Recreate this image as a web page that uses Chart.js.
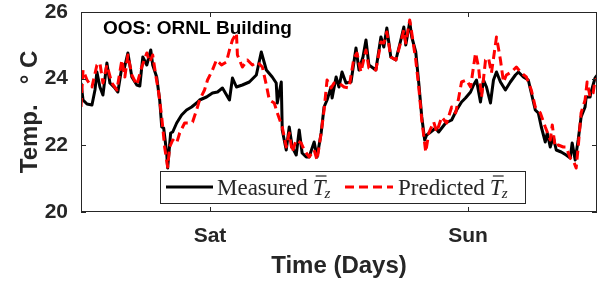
<!DOCTYPE html>
<html>
<head>
<meta charset="utf-8">
<script src="https://cdn.jsdelivr.net/npm/chart.js@4"></script>
<style>
  html, body { margin: 0; padding: 0; background: #fff; }
  #wrap { width: 598px; height: 287px; }
</style>
</head>
<body>
<div id="wrap"><canvas id="chart" width="598" height="287"></canvas></div>
<script>
// hours from Friday noon
const measuredHours = [0.0, 0.19, 0.56, 1.02, 1.30, 1.48, 1.76, 2.04, 2.41, 2.69, 3.15, 3.43, 3.80, 3.99, 4.36, 4.73, 5.19, 5.47, 5.75, 6.12, 6.49, 6.67, 7.04, 7.32, 7.51, 7.69, 7.97, 8.06, 8.34, 8.53, 8.90, 9.36, 9.82, 10.29, 10.75, 11.03, 11.68, 12.23, 12.70, 13.16, 13.81, 14.09, 14.46, 15.01, 15.66, 16.31, 16.77, 17.24, 17.79, 18.16, 18.26, 18.63, 18.72, 19.09, 19.37, 19.65, 20.02, 20.30, 20.57, 20.95, 21.22, 21.69, 21.96, 22.34, 22.61, 22.89, 23.26, 23.36, 23.73, 24.00, 24.28, 24.65, 25.12, 25.39, 25.58, 25.86, 26.23, 26.51, 26.78, 27.43, 27.90, 28.17, 28.45, 28.82, 29.29, 29.75, 30.03, 30.21, 30.58, 30.77, 31.14, 31.42, 31.70, 31.97, 32.16, 32.53, 32.99, 33.27, 33.92, 34.48, 34.94, 35.40, 35.77, 36.24, 36.52, 36.79, 37.16, 37.44, 37.72, 38.09, 38.37, 38.65, 39.02, 39.48, 39.94, 40.41, 40.69, 41.15, 41.61, 41.89, 42.26, 42.54, 42.82, 43.19, 43.37, 43.65, 43.93, 44.21, 44.67, 45.13, 45.51, 45.69, 45.97, 46.25, 46.52, 46.89, 46.99, 47.36, 47.45, 47.82, 48.0];
const measuredTemp = [23.87, 23.36, 23.24, 23.21, 23.66, 24.2, 23.75, 23.51, 24.47, 23.87, 23.72, 23.6, 24.35, 24.26, 24.77, 24.05, 23.81, 23.78, 24.65, 24.41, 24.86, 24.41, 24.05, 23.36, 22.55, 22.52, 21.77, 21.32, 22.37, 22.4, 22.67, 22.91, 23.06, 23.15, 23.27, 23.36, 23.45, 23.57, 23.6, 23.72, 23.36, 24.02, 23.75, 23.81, 23.9, 24.11, 24.8, 24.26, 24.05, 23.87, 23.27, 23.9, 22.46, 21.86, 22.55, 21.95, 21.71, 22.46, 21.77, 21.65, 21.65, 22.1, 21.65, 22.37, 23.15, 23.36, 23.75, 23.42, 24.05, 23.75, 24.2, 23.87, 23.9, 24.5, 24.92, 24.26, 24.65, 25.16, 24.41, 24.26, 25.25, 24.95, 25.52, 24.65, 24.56, 25.16, 25.55, 25.01, 25.7, 25.25, 24.8, 23.87, 22.85, 22.16, 22.31, 22.4, 22.52, 22.4, 22.67, 22.76, 23.06, 23.3, 23.42, 23.6, 23.81, 23.96, 23.3, 23.96, 23.75, 23.27, 23.96, 24.2, 23.9, 23.66, 23.9, 24.11, 24.2, 24.05, 23.96, 23.57, 23.06, 22.97, 22.55, 22.1, 22.37, 21.95, 22.25, 21.86, 21.8, 21.71, 21.62, 22.07, 21.56, 22.16, 22.85, 23.15, 23.45, 23.45, 23.6, 24.02, 24.1];

const predictedHours = [0.0, 0.19, 0.56, 1.02, 1.48, 1.76, 2.04, 2.41, 2.87, 3.34, 3.80, 4.08, 4.36, 4.73, 5.19, 5.65, 6.12, 6.39, 6.67, 6.95, 7.23, 7.51, 7.78, 8.06, 8.25, 8.53, 8.90, 9.18, 9.64, 10.10, 10.38, 10.75, 11.03, 11.49, 11.77, 12.23, 12.60, 13.07, 13.53, 13.81, 14.09, 14.46, 14.55, 15.01, 15.48, 15.94, 16.40, 16.87, 17.24, 17.52, 17.98, 18.26, 18.72, 19.09, 19.37, 19.65, 20.02, 20.48, 20.76, 21.22, 21.69, 21.96, 22.34, 22.61, 22.89, 23.26, 23.54, 24.00, 24.47, 24.93, 25.39, 25.67, 26.04, 26.51, 26.78, 27.43, 27.90, 28.17, 28.45, 28.82, 29.29, 29.75, 30.03, 30.21, 30.58, 30.77, 31.14, 31.42, 31.70, 32.07, 32.35, 32.81, 33.09, 33.55, 34.01, 34.48, 34.85, 35.13, 35.40, 35.87, 36.24, 36.70, 36.98, 37.26, 37.63, 37.91, 38.18, 38.65, 39.02, 39.30, 39.57, 40.04, 40.50, 40.96, 41.43, 41.89, 42.26, 42.73, 43.19, 43.65, 43.84, 44.11, 44.39, 44.86, 45.13, 45.51, 45.78, 46.06, 46.25, 46.52, 46.89, 47.08, 47.36, 47.64, 47.82, 48.0];
const predictedTemp = [23.15, 24.26, 23.96, 23.75, 24.41, 24.47, 23.87, 24.41, 23.87, 23.66, 24.56, 24.05, 24.71, 24.11, 23.81, 24.35, 24.77, 24.5, 24.71, 24.11, 23.57, 22.85, 21.95, 21.35, 21.95, 22.16, 22.07, 22.37, 22.67, 22.67, 22.7, 23.06, 23.36, 23.66, 23.96, 24.26, 24.56, 24.41, 24.5, 24.86, 25.16, 25.37, 24.71, 24.35, 24.56, 24.41, 24.5, 24.35, 23.81, 23.36, 23.27, 22.97, 22.55, 21.95, 22.37, 21.8, 22.16, 22.07, 21.86, 21.65, 21.86, 21.56, 22.37, 23.06, 23.96, 23.72, 23.87, 23.87, 23.75, 23.72, 24.62, 24.77, 24.2, 24.86, 24.32, 24.26, 25.1, 25.07, 25.4, 24.65, 24.56, 25.1, 25.46, 25.07, 25.76, 25.37, 24.56, 23.75, 22.76, 21.8, 22.37, 22.7, 22.4, 22.85, 22.67, 23.15, 22.97, 23.42, 23.9, 23.96, 23.75, 24.77, 24.35, 23.45, 24.56, 24.62, 24.17, 25.25, 24.56, 23.9, 24.11, 24.2, 24.35, 24.17, 24.05, 23.66, 23.15, 22.97, 22.55, 22.16, 22.61, 21.95, 22.01, 21.95, 21.95, 21.62, 21.56, 21.32, 21.95, 22.97, 23.36, 23.9, 23.45, 23.57, 23.96, 24.0];

const yTicks = [20, 22, 24, 26];
const dayTicks = [12, 36];
const dayLabels = ['Sat', 'Sun'];

const axisColor = '#262626';
const sans = '"Liberation Sans", Arial, sans-serif';
const serif = '"Liberation Serif", "Times New Roman", serif';

const toPoints = (xs, ys) => xs.map((x, i) => ({ x: x, y: ys[i] }));

// box with inward ticks, like the matlab axes
const boxPlugin = {
  id: 'box',
  afterDatasetsDraw(chart) {
    const { ctx, chartArea: a, scales } = chart;
    ctx.save();
    ctx.strokeStyle = axisColor;
    ctx.lineWidth = 1;
    ctx.strokeRect(a.left + 0.5, a.top + 0.5, a.right - a.left - 1, a.bottom - a.top - 1);
    ctx.beginPath();
    yTicks.forEach(v => {
      const y = Math.round(scales.y.getPixelForValue(v)) + 0.5;
      ctx.moveTo(a.left, y); ctx.lineTo(a.left + 5, y);
      ctx.moveTo(a.right, y); ctx.lineTo(a.right - 5, y);
    });
    dayTicks.forEach(v => {
      const x = Math.round(scales.x.getPixelForValue(v)) + 0.5;
      ctx.moveTo(x, a.bottom); ctx.lineTo(x, a.bottom - 5);
      ctx.moveTo(x, a.top); ctx.lineTo(x, a.top + 5);
    });
    ctx.stroke();

    // text inside the axes
    ctx.fillStyle = '#000';
    ctx.font = 'bold 19px ' + sans;
    ctx.textAlign = 'left';
    ctx.textBaseline = 'middle';
    ctx.fillText('OOS: ORNL Building', a.left + 22, a.top + 17);

    // legend
    const lx = 160, ly = 171, lw = 365, lh = 32, cy = ly + lh / 2;
    ctx.fillStyle = '#fff';
    ctx.fillRect(lx, ly, lw, lh);
    ctx.strokeStyle = axisColor;
    ctx.strokeRect(lx + 0.5, ly + 0.5, lw, lh);

    ctx.lineWidth = 3;
    ctx.strokeStyle = '#000';
    ctx.beginPath(); ctx.moveTo(166, cy); ctx.lineTo(213, cy); ctx.stroke();
    ctx.strokeStyle = '#ff0000';
    ctx.setLineDash([9, 5]);
    ctx.beginPath(); ctx.moveTo(345, cy); ctx.lineTo(393, cy); ctx.stroke();
    ctx.setLineDash([]);

    const entry = (label, x) => {
      ctx.fillStyle = axisColor;
      ctx.font = '23px ' + serif;
      ctx.textBaseline = 'alphabetic';
      ctx.fillText(label, x, cy + 8);
      let tx = x + ctx.measureText(label).width + 5;
      ctx.font = 'italic 23px ' + serif;
      ctx.fillText('T', tx, cy + 8);
      const tw = ctx.measureText('T').width;
      ctx.lineWidth = 1.2;
      ctx.strokeStyle = axisColor;
      ctx.beginPath(); ctx.moveTo(tx + 3, cy - 11); ctx.lineTo(tx + tw + 1, cy - 11); ctx.stroke();
      ctx.font = 'italic 15px ' + serif;
      ctx.fillText('z', tx + tw - 1, cy + 11);
    };
    entry('Measured', 217);
    entry('Predicted', 398);
    ctx.restore();
  }
};

new Chart(document.getElementById('chart'), {
  type: 'line',
  data: {
    datasets: [
      {
        label: 'Predicted',
        data: toPoints(predictedHours, predictedTemp),
        borderColor: '#ff0000',
        borderWidth: 3,
        borderDash: [9, 5],
        borderJoinStyle: 'round',
        pointRadius: 0,
        tension: 0,
        order: 0
      },
      {
        label: 'Measured',
        data: toPoints(measuredHours, measuredTemp),
        borderColor: '#000000',
        borderWidth: 3,
        borderJoinStyle: 'round',
        pointRadius: 0,
        tension: 0,
        order: 1
      }
    ]
  },
  options: {
    responsive: false,
    animation: false,
    layout: { padding: { top: 12, right: 1, left: 0, bottom: 0 } },
    plugins: { legend: { display: false }, tooltip: { enabled: false } },
    scales: {
      x: {
        type: 'linear',
        min: 0,
        max: 48,
        grid: { display: false, drawTicks: false },
        border: { display: false },
        afterBuildTicks: s => { s.ticks = dayTicks.map(v => ({ value: v })); },
        afterFit: s => { s.height = 75; s.paddingLeft = 0; s.paddingRight = 0; },
        ticks: {
          autoSkip: false,
          maxRotation: 0,
          padding: 12,
          color: axisColor,
          font: { family: sans, size: 21, weight: 'bold' },
          callback: (v, i) => dayLabels[i]
        },
        title: {
          display: true,
          text: 'Time (Days)',
          color: axisColor,
          padding: { top: 0, bottom: 6 },
          font: { family: sans, size: 24, weight: 'bold', lineHeight: 1.2 }
        }
      },
      y: {
        min: 20,
        max: 26,
        grid: { display: false, drawTicks: false },
        border: { display: false },
        afterBuildTicks: s => { s.ticks = yTicks.map(v => ({ value: v })); },
        afterFit: s => { s.width = 81; s.paddingTop = 0; s.paddingBottom = 0; },
        ticks: {
          padding: 13,
          color: axisColor,
          font: { family: sans, size: 21, weight: 'bold' },
          callback: v => String(v)
        },
        title: {
          display: true,
          text: 'Temp.   \u00B0 C',
          color: axisColor,
          padding: { top: 16, bottom: 0 },
          font: { family: sans, size: 24, weight: 'bold', lineHeight: 1.2 }
        }
      }
    }
  },
  plugins: [boxPlugin]
});
</script>
</body>
</html>
